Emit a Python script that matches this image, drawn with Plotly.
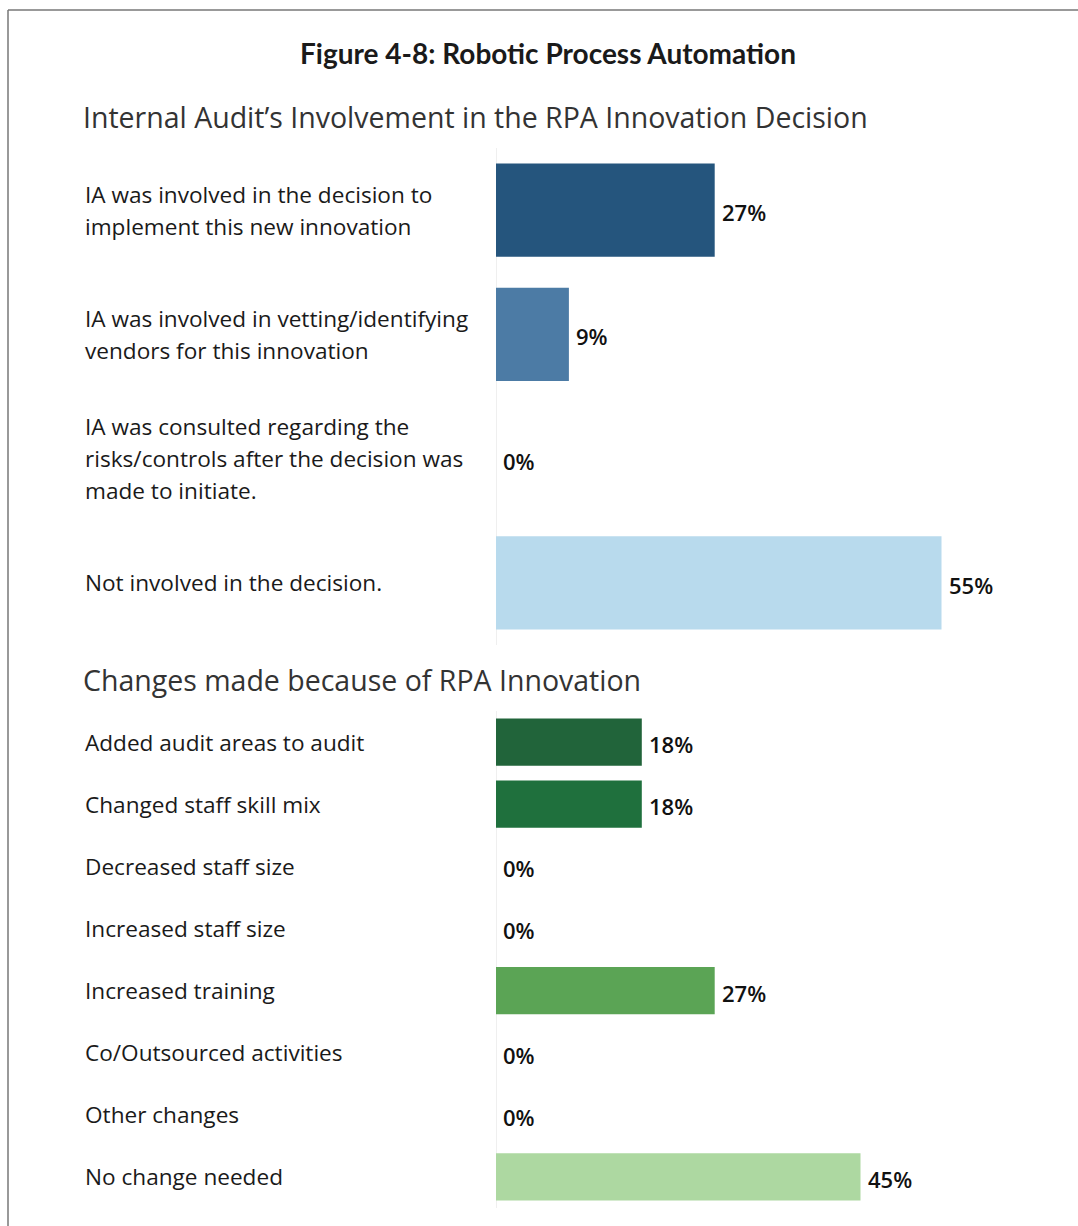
import plotly.graph_objects as go

W, H = 1078, 1226

# ---- data ----
title_text = "Figure 4-8: Robotic Process Automation"

decision_title = "Internal Audit’s Involvement in the RPA Innovation Decision"
decision_labels = [
    "IA was involved in the decision to\nimplement this new innovation",
    "IA was involved in vetting/identifying\nvendors for this innovation",
    "IA was consulted regarding the\nrisks/controls after the decision was\nmade to initiate.",
    "Not involved in the decision.",
]
decision_values = [27, 9, 0, 55]
decision_colors = ["#25557d", "#4c7ba5", "#7fa9cc", "#b8daed"]

change_title = "Changes made because of RPA Innovation"
change_labels = [
    "Added audit areas to audit",
    "Changed staff skill mix",
    "Decreased staff size",
    "Increased staff size",
    "Increased training",
    "Co/Outsourced activities",
    "Other changes",
    "No change needed",
]
change_values = [18, 18, 0, 0, 27, 0, 0, 45]
change_colors = ["#21643a", "#1f703d", "#3f8a47", "#4f974e",
                 "#5ba455", "#7dbb74", "#95c88a", "#add8a1"]

# ---- layout helpers (pixel -> paper) ----
def px(x):
    return x / W


def py(y):
    return 1 - y / H


X_LEFT = 496          # bar baseline
PX_PER_PCT = 8.1
X_MAX = 60
x_domain = [px(X_LEFT), px(X_LEFT + X_MAX * PX_PER_PCT)]

LABEL_FONT = dict(family="Open Sans", size=22.6, color="#1a1a1a")
VALUE_FONT = dict(family="Open Sans", size=22, color="#111111", weight=600)
SUB_FONT = dict(family="Open Sans", size=28.5, color="#333333")

fig = go.Figure()

panels = [
    (decision_labels, decision_values, decision_colors, "x", "y", 0.75, 32),
    (change_labels, change_values, change_colors, "x2", "y2", 0.76, 32),
]

annotations = []
for labels, values, colors, xa, ya, bw, line_h in panels:
    idx = list(range(len(labels)))
    fig.add_trace(go.Bar(
        x=values, y=idx, orientation="h",
        marker=dict(color=colors, line=dict(width=0)),
        width=bw, xaxis=xa, yaxis=ya, hoverinfo="skip",
    ))
    for i, (lab, v) in enumerate(zip(labels, values)):
        lines = lab.split("\n")
        n = len(lines)
        for k, line in enumerate(lines):
            annotations.append(dict(
                text=line, xref="paper", x=px(83), xanchor="left",
                yref=ya, y=i, yanchor="middle",
                yshift=-(k - (n - 1) / 2) * line_h,
                showarrow=False, font=LABEL_FONT,
            ))
        annotations.append(dict(
            text=f"{v}%", xref=xa, x=v, xanchor="left", xshift=5,
            yref=ya, y=i, yanchor="middle", yshift=-2,
            showarrow=False, font=VALUE_FONT,
        ))

annotations += [
    dict(text=f"<b>{title_text}</b>", xref="paper", yref="paper",
         x=px(548), y=py(53), xanchor="center", yanchor="middle",
         showarrow=False, font=dict(family="Lato", size=28, color="#1a1a1a")),
    dict(text=decision_title, xref="paper", yref="paper",
         x=px(81), y=py(117), xanchor="left", yanchor="middle",
         showarrow=False, font=SUB_FONT),
    dict(text=change_title, xref="paper", yref="paper",
         x=px(81), y=py(680), xanchor="left", yanchor="middle",
         showarrow=False, font=SUB_FONT),
]

axis_x = dict(range=[0, X_MAX], domain=x_domain, showticklabels=False,
              showgrid=False, zeroline=True, zerolinecolor="#efefef",
              zerolinewidth=1, fixedrange=True)

fig.update_layout(
    width=W, height=H,
    margin=dict(l=0, r=0, t=0, b=0),
    paper_bgcolor="white", plot_bgcolor="white",
    showlegend=False,
    xaxis=dict(axis_x, anchor="y"),
    xaxis2=dict(axis_x, anchor="y2"),
    yaxis=dict(domain=[py(645), py(148)], range=[len(decision_labels) - 0.5, -0.5],
               showticklabels=False, showgrid=False, zeroline=False, anchor="x"),
    yaxis2=dict(domain=[py(1208), py(711)], range=[len(change_labels) - 0.5, -0.5],
                showticklabels=False, showgrid=False, zeroline=False, anchor="x2"),
    annotations=annotations,
    shapes=[
        dict(type="line", xref="paper", yref="paper",
             x0=px(8), y0=py(10), x1=px(8), y1=py(1240),
             line=dict(color="#777777", width=1.5)),
        dict(type="line", xref="paper", yref="paper",
             x0=px(8), y0=py(10), x1=px(1090), y1=py(10),
             line=dict(color="#777777", width=1.5)),
    ],
)

fig.write_html("out.html")
